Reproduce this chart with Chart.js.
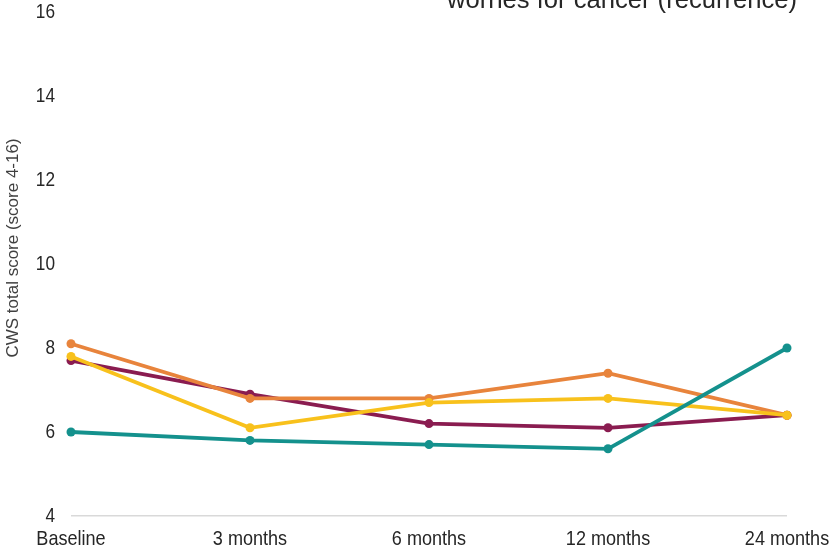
<!DOCTYPE html>
<html>
<head>
<meta charset="utf-8">
<script src="https://cdn.jsdelivr.net/npm/chart.js@4/dist/chart.umd.min.js"></script>
<style>
  html, body { margin: 0; padding: 0; background: #ffffff; }
  #wrap { width: 829px; height: 553px; position: relative; }
</style>
</head>
<body>
<div id="wrap"><canvas id="c" width="829" height="553"></canvas></div>
<script>
// Assessment time points
const timepoints = ['Baseline', '3 months', '6 months', '12 months', '24 months'];

// Mean CWS total score per group
const groupMaroon = [7.7, 6.9, 6.2, 6.1, 6.4];
const groupOrange = [8.1, 6.8, 6.8, 7.4, 6.4];
const groupYellow = [7.8, 6.1, 6.7, 6.8, 6.4];
const groupTeal   = [6.0, 5.8, 5.7, 5.6, 8.0];

// Y axis tick values
const yTicks = [4, 6, 8, 10, 12, 14, 16];

const titleText = 'worries for cancer (recurrence)';
const yTitleText = 'CWS total score (score 4-16)';

const FONT = "'Liberation Sans', Arial, sans-serif";
const NARROW = 0.86; // condensed look of the axis labels

function line(color, data) {
  return {
    data: data,
    borderColor: color,
    backgroundColor: color,
    borderWidth: 3.8,
    pointRadius: 4.5,
    pointHoverRadius: 4.5,
    pointBorderWidth: 0,
    tension: 0,
    clip: false
  };
}

// Condensed tick labels, placed with the chart's own scales
const tickLabelPlugin = {
  id: 'tickLabels',
  afterDraw(chart) {
    const ctx = chart.ctx;
    const xs = chart.scales.x, ys = chart.scales.y;
    ctx.save();
    ctx.fillStyle = '#262626';

    ctx.font = '21px ' + FONT;
    ctx.textAlign = 'center';
    ctx.textBaseline = 'middle';
    xs.ticks.forEach((t, i) => {
      const px = xs.getPixelForTick(i);
      ctx.save();
      ctx.translate(px, 539);
      ctx.scale(NARROW, 1);
      ctx.fillText(xs.getLabelForValue(t.value), 0, 0);
      ctx.restore();
    });

    ctx.font = '20px ' + FONT;
    ctx.textAlign = 'right';
    ys.ticks.forEach(t => {
      const py = ys.getPixelForValue(t.value);
      ctx.save();
      ctx.translate(55, py);
      ctx.scale(NARROW, 1);
      ctx.fillText(String(t.value), 0, 0);
      ctx.restore();
    });
    ctx.restore();
  }
};

// Heading and the rotated y-axis caption
const textPlugin = {
  id: 'texts',
  afterDraw(chart) {
    const ctx = chart.ctx;
    ctx.save();
    ctx.fillStyle = '#262626';
    ctx.font = '25.6px ' + FONT;
    ctx.textAlign = 'right';
    ctx.textBaseline = 'alphabetic';
    ctx.fillText(titleText, 797, 8);

    ctx.fillStyle = '#404040';
    ctx.font = '17px ' + FONT;
    ctx.translate(13, 248);
    ctx.rotate(-Math.PI / 2);
    ctx.textAlign = 'center';
    ctx.textBaseline = 'middle';
    ctx.fillText(yTitleText, 0, 0);
    ctx.restore();
  }
};

new Chart(document.getElementById('c'), {
  type: 'line',
  data: {
    labels: timepoints,
    datasets: [
      line('#14918D', groupTeal),
      line('#F8C11C', groupYellow),
      line('#E8843C', groupOrange),
      line('#8A1C50', groupMaroon)
    ]
  },
  options: {
    responsive: false,
    animation: false,
    devicePixelRatio: 1,
    layout: { padding: { top: 12, right: 42, left: 0, bottom: 0 } },
    plugins: {
      legend: { display: false },
      tooltip: { enabled: false },
      title: { display: false }
    },
    scales: {
      x: {
        offset: false,
        grid: { display: false, drawTicks: false },
        border: { display: false },
        ticks: { display: false, autoSkip: false },
        afterFit(scale) { scale.height = 37; }
      },
      y: {
        min: yTicks[0],
        max: yTicks[yTicks.length - 1],
        afterBuildTicks(scale) { scale.ticks = yTicks.map(v => ({ value: v })); },
        grid: {
          drawTicks: false,
          color: ctx => (ctx.tick && ctx.tick.value === yTicks[0]) ? '#D9D9D9' : 'rgba(0,0,0,0)',
          lineWidth: 1.5
        },
        border: { display: false },
        ticks: { display: false },
        afterFit(scale) { scale.width = 71; }
      }
    }
  },
  plugins: [tickLabelPlugin, textPlugin]
});
</script>
</body>
</html>
